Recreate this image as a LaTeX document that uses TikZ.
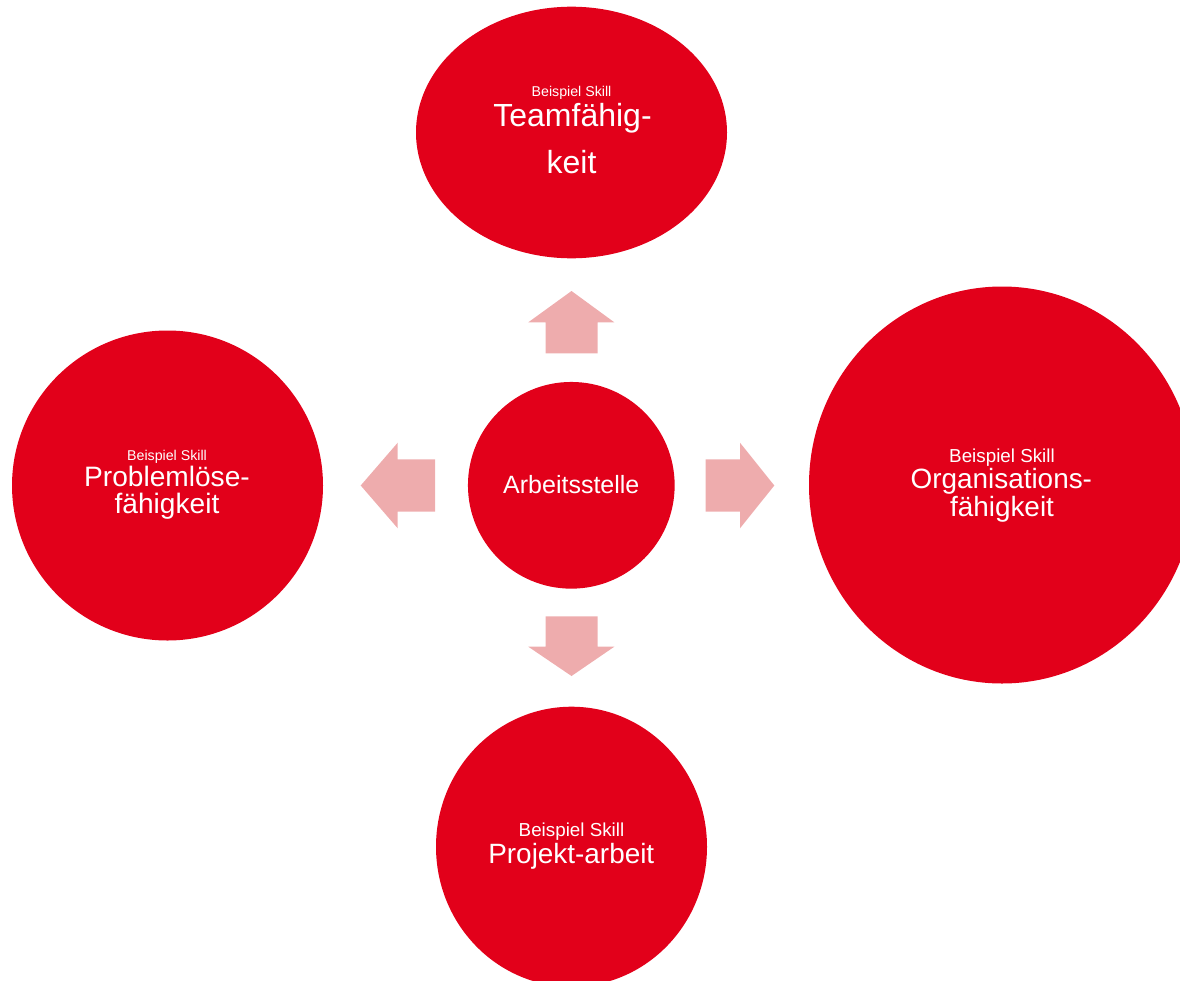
\documentclass[tikz,border=0pt]{standalone}
\usepackage{fontspec}
\setmainfont{Liberation Sans}
\usetikzlibrary{shapes.geometric}
\definecolor{skillred}{HTML}{E2001A}
\definecolor{arrowpink}{HTML}{EEACAD}
\tikzset{
  blob/.style={ellipse, fill=skillred, draw=none, inner sep=0pt, outer sep=0pt},
  lbl/.style={anchor=base, text=white, inner sep=0pt},
  small/.style={lbl, font=\fontsize{14.2}{16}\selectfont},
  smallb/.style={lbl, font=\fontsize{18.8}{21}\selectfont},
  big/.style={lbl, font=\fontsize{27.9}{30}\selectfont},
  bigt/.style={lbl, font=\fontsize{32}{34}\selectfont},
  blockarrow/.style={fill=arrowpink, draw=none}
}
\begin{document}
\begin{tikzpicture}[x=1pt, y=-1pt]
\useasboundingbox (0,0) rectangle (1180,980);
\clip (0,0) rectangle (1180,980);
% circles
\node[blob, minimum width=311pt, minimum height=251.6pt] (team) at (571.5,132.5) {};
\node[blob, minimum width=311pt, minimum height=310pt] (prob) at (167.5,485.5) {};
\node[blob, minimum width=206.7pt, minimum height=206.7pt] (arb) at (571.3,485.3) {};
\node[blob, minimum width=386pt, minimum height=397pt] (org) at (1002,485) {};
\node[blob, minimum width=271pt, minimum height=280pt] (proj) at (571.5,846.7) {};
% block arrows
\fill[blockarrow] (571.5,291) -- (614.3,322.3) -- (597.7,322.3) -- (597.7,353.3) -- (545.7,353.3) -- (545.7,322.3) -- (528.3,322.3) -- cycle;
\fill[blockarrow] (545.7,616.3) -- (597.7,616.3) -- (597.7,646.7) -- (614.3,646.7) -- (571.5,676) -- (528.3,646.7) -- (545.7,646.7) -- cycle;
\fill[blockarrow] (360.7,485.5) -- (397.7,442.7) -- (397.7,459.3) -- (435,459.3) -- (435,511.7) -- (397.7,511.7) -- (397.7,528.3) -- cycle;
\fill[blockarrow] (774.3,485.5) -- (740,442.7) -- (740,459.3) -- (705.7,459.3) -- (705.7,511.7) -- (740,511.7) -- (740,528.3) -- cycle;
% texts
\node[small] (teamA) at (571.5,96) {Beispiel Skill};
\node[bigt] (teamB) at (572.5,126.7) {Teamfähig-};
\node[bigt] (teamC) at (571.5,173.3) {keit};
\node[small] (probA) at (167,460) {Beispiel Skill};
\node[big, font=\fontsize{28.1}{30}\selectfont] (probB) at (167,486.7) {Problemlöse-};
\node[big, font=\fontsize{28.1}{30}\selectfont] (probC) at (167,513.3) {fähigkeit};
\node[lbl, font=\fontsize{25}{27}\selectfont] (arbA) at (571.3,493.3) {Arbeitsstelle};
\node[smallb] (orgA) at (1002,462) {Beispiel Skill};
\node[big] (orgB) at (1001.3,488.3) {Organisations-};
\node[big] (orgC) at (1002,516.7) {fähigkeit};
\node[smallb] (projA) at (571.5,836) {Beispiel Skill};
\node[big] (projB) at (571.3,863.3) {Projekt-arbeit};
\end{tikzpicture}
\end{document}
